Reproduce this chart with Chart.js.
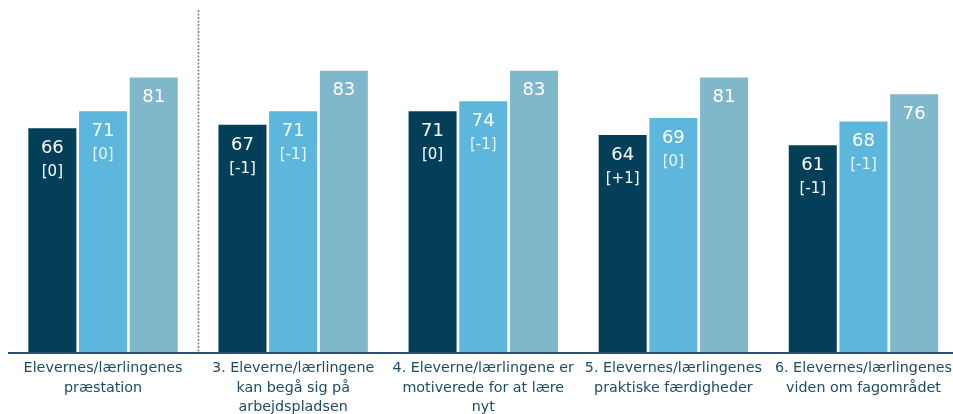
<!DOCTYPE html>
<html>
<head>
<meta charset="utf-8">
<script src="https://cdn.jsdelivr.net/npm/chart.js@4"></script>
<style>
html,body{margin:0;padding:0;background:#fff;overflow:hidden;}
#wrap{width:959px;height:414px;position:relative;}
</style>
</head>
<body>
<div id="wrap"><canvas id="c"></canvas></div>
<script>
const categories = [
  ["Elevernes/lærlingenes", "præstation"],
  ["3. Eleverne/lærlingene", "kan begå sig på", "arbejdspladsen"],
  ["4. Eleverne/lærlingene er", "motiverede for at lære", "nyt"],
  ["5. Elevernes/lærlingenes", "praktiske færdigheder"],
  ["6. Elevernes/lærlingenes", "viden om fagområdet"]
];
const series1 = [66, 67, 71, 64, 61];
const series2 = [71, 71, 74, 69, 68];
const series3 = [81, 83, 83, 81, 76];
const changes1 = ["[0]", "[-1]", "[0]", "[+1]", "[-1]"];
const changes2 = ["[0]", "[-1]", "[-1]", "[0]", "[-1]"];
const changes3 = [null, null, null, null, null];

const colors = ["#033f58", "#5db6dc", "#80b8cb"];
const FONT = "'DejaVu Sans', Verdana, sans-serif";

const labelPlugin = {
  id: 'barLabels',
  afterDatasetsDraw(chart) {
    const ctx = chart.ctx;
    const changeSets = [changes1, changes2, changes3];
    chart.data.datasets.forEach((ds, di) => {
      const meta = chart.getDatasetMeta(di);
      meta.data.forEach((bar, i) => {
        ctx.save();
        ctx.fillStyle = '#ffffff';
        ctx.textAlign = 'center';
        ctx.textBaseline = 'middle';
        ctx.font = "18px " + FONT;
        ctx.fillText(String(ds.data[i]), bar.x, bar.y + 20);
        const ch = changeSets[di][i];
        if (ch) {
          ctx.globalAlpha = di === 1 ? 0.85 : 1;
          ctx.font = "15px " + FONT;
          ctx.fillText(ch, bar.x, bar.y + 44);
        }
        ctx.restore();
      });
    });
  },
  afterDraw(chart) {
    const ctx = chart.ctx;
    const a = chart.chartArea;
    const xs = chart.scales.x;
    ctx.save();
    ctx.strokeStyle = '#2d4d6e';
    ctx.lineWidth = 2;
    ctx.beginPath();
    ctx.moveTo(a.left, a.bottom + 1);
    ctx.lineTo(a.right, a.bottom + 1);
    ctx.stroke();
    const sep = (xs.getPixelForValue(0) + xs.getPixelForValue(1)) / 2;
    ctx.strokeStyle = '#7a7a7a';
    ctx.lineWidth = 1.5;
    ctx.setLineDash([2, 1.5]);
    ctx.beginPath();
    ctx.moveTo(Math.round(sep) + 0.5, 10);
    ctx.lineTo(Math.round(sep) + 0.5, a.bottom);
    ctx.stroke();
    ctx.restore();
  }
};

new Chart(document.getElementById('c'), {
  type: 'bar',
  data: {
    labels: categories,
    datasets: [
      { data: series1, backgroundColor: colors[0] },
      { data: series2, backgroundColor: colors[1] },
      { data: series3, backgroundColor: colors[2] }
    ]
  },
  options: {
    responsive: true,
    maintainAspectRatio: false,
    animation: false,
    layout: { padding: { left: 8, right: 0, top: 13, bottom: 0 } },
    datasets: { bar: { categoryPercentage: 0.8, barPercentage: 0.947 } },
    plugins: { legend: { display: false }, tooltip: { enabled: false } },
    scales: {
      x: {
        grid: { display: false, drawTicks: false },
        border: { display: false },
        ticks: {
          color: '#1d4b66',
          font: { family: FONT, size: 14.3, lineHeight: 1.36 },
          padding: 7,
          maxRotation: 0,
          autoSkip: false
        },
        afterFit(scale) { scale.height = 62; }
      },
      y: {
        display: false,
        min: 0,
        max: 100
      }
    }
  },
  plugins: [labelPlugin]
});
</script>
</body>
</html>
